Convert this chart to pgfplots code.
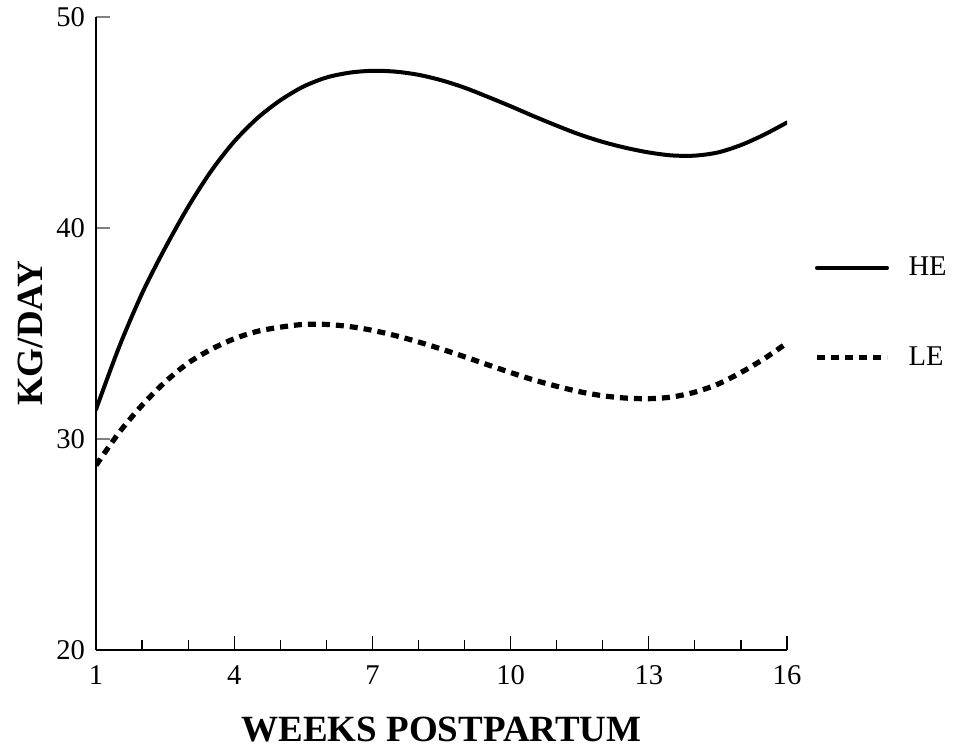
\documentclass[border=0pt]{standalone}
\usepackage{pgfplots}
\pgfplotsset{compat=1.18}
\usepackage{fontspec}
\setmainfont{Liberation Serif}
\begin{document}
\begin{tikzpicture}
\begin{axis}[
  scale only axis,
  width=345.5pt, height=316.5pt,
  xmin=1, xmax=16, ymin=20, ymax=50,
  axis x line=bottom, axis y line=left,
  axis line style={-, line width=1pt, black},
  xtick={1,4,7,10,13,16},
  minor xtick={2,3,5,6,8,9,11,12,14,15},
  ytick={20,30,40,50},
  tick align=inside,
  major tick length=7pt,
  minor tick length=5pt,
  x tick style={black, line width=0.6pt},
  minor x tick style={black, line width=0.6pt},
  y tick style={gray, line width=0.6pt},
  /pgf/number format/assume math mode=true,
  tick label style={font=\fontsize{14.3}{16}\selectfont},
  xticklabel style={yshift=-4.3pt},
  yticklabel style={xshift=-2pt},
  xlabel={\textbf{WEEKS POSTPARTUM}},
  ylabel={\textbf{KG/DAY}},
  label style={font=\fontsize{18.5}{22}\selectfont},
  xlabel style={at={(rel axis cs:0.5,0)}, anchor=center, yshift=-40pt},
  ylabel style={at={(rel axis cs:0,0.5)}, anchor=center, rotate=0, yshift=33pt},
  legend style={at={(rel axis cs:1,0.533)}, anchor=west, xshift=13.5pt,
    draw=none, fill=none, inner sep=0pt, row sep=34pt,
    font=\fontsize{14.3}{16}\selectfont,
    nodes={inner sep=0pt},
    /tikz/every odd column/.style={column sep=9.5pt}},
  legend cell align=left,
  legend image code/.code={\draw[#1] (0pt,0pt) -- (35pt,0pt);},
]
\addplot[black, line width=2pt, smooth, line cap=round] coordinates {
(1,31.4) (1.5,34.35) (2,36.9) (2.5,39.05) (3,41.0) (3.5,42.7) (4,44.1)
(4.5,45.2) (5,46.05) (5.5,46.7) (6,47.13) (6.5,47.36) (7,47.45) (7.5,47.41)
(8,47.26) (8.5,47.0) (9,46.65) (9.5,46.22) (10,45.77) (10.5,45.3) (11,44.85)
(11.5,44.43) (12,44.08) (12.5,43.8) (13,43.58) (13.5,43.44) (14,43.43)
(14.5,43.58) (15,43.93) (15.5,44.42) (16,45.0)
};
\addlegendentry{HE}
\addplot[black, line width=2.6pt, smooth, dash pattern=on 4pt off 3pt] coordinates {
(1,28.75) (1.5,30.3) (2,31.6) (2.5,32.7) (3,33.6) (3.5,34.25) (4,34.75)
(4.5,35.1) (5,35.3) (5.5,35.43) (6,35.43) (6.5,35.33) (7,35.15) (7.5,34.9)
(8,34.6) (8.5,34.26) (9,33.9) (9.5,33.52) (10,33.15) (10.5,32.8) (11,32.5)
(11.5,32.24) (12,32.05) (12.5,31.94) (13,31.91) (13.5,31.99)
(14,32.22) (14.5,32.6) (15,33.15) (15.5,33.8) (16,34.55)
};
\addlegendentry{LE}
\end{axis}
\pgfresetboundingbox
\path (-48pt,-52.5pt) rectangle (429.5pt,325pt);
\end{tikzpicture}
\end{document}
